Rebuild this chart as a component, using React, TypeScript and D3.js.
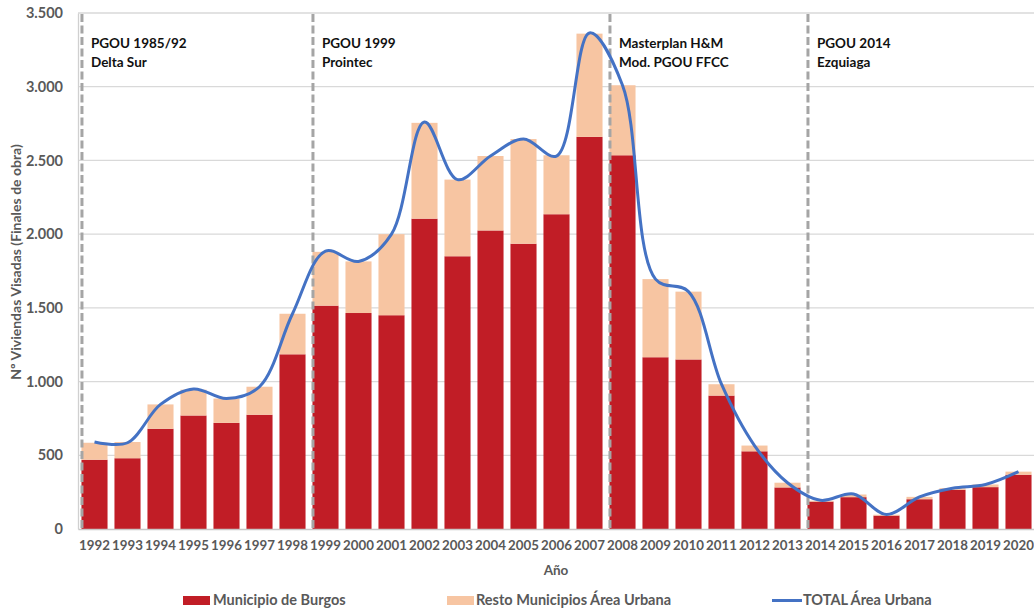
import React, { useRef, useEffect } from "react";
import * as d3 from "d3";

const years = [
  "1992", "1993", "1994", "1995", "1996", "1997", "1998", "1999", "2000", "2001",
  "2002", "2003", "2004", "2005", "2006", "2007", "2008", "2009", "2010", "2011",
  "2012", "2013", "2014", "2015", "2016", "2017", "2018", "2019", "2020",
];
const municipio = [
  470, 480, 680, 770, 720, 775, 1185, 1515, 1465, 1450,
  2105, 1850, 2025, 1935, 2135, 2660, 2535, 1165, 1150, 905,
  527, 282, 186, 216, 91, 202, 266, 284, 368,
];
const resto = [
  115, 110, 165, 175, 165, 190, 275, 365, 350, 550,
  650, 520, 505, 710, 400, 700, 475, 530, 460, 77,
  39, 32, 6, 18, 6, 16, 11, 18, 21,
];
const total = [
  590, 585, 845, 950, 885, 965, 1460, 1885, 1815, 2000,
  2760, 2370, 2530, 2645, 2530, 3365, 3010, 1695, 1610, 982,
  566, 314, 195, 238, 98, 218, 277, 302, 389,
];
const yTicks = [0, 500, 1000, 1500, 2000, 2500, 3000, 3500];
const planYears = ["1992", "1999", "2008", "2014"];
const planLabels = [
  ["PGOU 1985/92", "Delta Sur"],
  ["PGOU 1999", "Prointec"],
  ["Masterplan H&M", "Mod. PGOU FFCC"],
  ["PGOU 2014", "Ezquiaga"],
];
const seriesNames = ["Municipio de Burgos", "Resto Municipios Área Urbana", "TOTAL Área Urbana"];

const RED = "#c11d26";
const PEACH = "#f7c5a2";
const BLUE = "#4472c4";
const TEXT = "#595959";
const FONT = "Lato, 'Open Sans', sans-serif";

const W = 1034;
const H = 609;

const App: React.FC = () => {
  const svgRef = useRef<SVGSVGElement | null>(null);

  useEffect(() => {
    if (!svgRef.current) return;
    const svg = d3.select(svgRef.current);
    svg.selectAll("*").remove();

    const x = d3.scaleBand().domain(years).range([78, 1035]).paddingInner(0.21).paddingOuter(0.105);
    const y = d3.scaleLinear().domain([0, 3500]).range([529, 13]);
    const es = d3.formatLocale({ decimal: ",", thousands: ".", grouping: [3], currency: ["", "€"] });
    const fmt = es.format(",");

    // gridlines
    svg.append("g")
      .selectAll("line")
      .data(yTicks.slice(1))
      .join("line")
      .attr("x1", 78)
      .attr("x2", W)
      .attr("y1", (d) => y(d))
      .attr("y2", (d) => y(d))
      .attr("stroke", "#d9d9d9")
      .attr("stroke-width", 1.3);

    // y axis
    const yAxis = svg.append("g")
      .attr("transform", "translate(78,0)")
      .call(d3.axisLeft(y).tickValues(yTicks).tickSize(0).tickPadding(15).tickFormat((d) => fmt(d as number)));
    yAxis.select(".domain").attr("stroke", "#d0d0d0").attr("stroke-width", 1.3);
    yAxis.selectAll("text")
      .attr("fill", TEXT)
      .attr("font-family", FONT)
      .attr("font-weight", "bold")
      .attr("font-size", 14.5);

    // stacked bars
    const bars = svg.append("g");
    bars.selectAll("rect.mun")
      .data(years)
      .join("rect")
      .attr("class", "mun")
      .attr("x", (d) => x(d) || 0)
      .attr("width", x.bandwidth())
      .attr("y", (_, i) => y(municipio[i]))
      .attr("height", (_, i) => y(0) - y(municipio[i]))
      .attr("fill", RED);
    bars.selectAll("rect.res")
      .data(years)
      .join("rect")
      .attr("class", "res")
      .attr("x", (d) => x(d) || 0)
      .attr("width", x.bandwidth())
      .attr("y", (_, i) => y(municipio[i] + resto[i]))
      .attr("height", (_, i) => y(municipio[i]) - y(municipio[i] + resto[i]))
      .attr("fill", PEACH);

    // x axis
    const xAxis = svg.append("g")
      .attr("transform", "translate(0,529)")
      .call(d3.axisBottom(x).tickSize(0).tickPadding(12));
    xAxis.select(".domain").attr("stroke", "#c8c8c8").attr("stroke-width", 1.5);
    xAxis.selectAll("text")
      .attr("fill", TEXT)
      .attr("font-family", FONT)
      .attr("font-weight", "bold")
      .attr("font-size", 13.3);

    // planning period markers
    const plans = svg.append("g");
    planYears.forEach((yr, i) => {
      const px = (x(yr) || 0) + 0.5;
      plans.append("line")
        .attr("x1", px)
        .attr("x2", px)
        .attr("y1", 14)
        .attr("y2", 529)
        .attr("stroke", "#a5a5a5")
        .attr("stroke-width", 3)
        .attr("stroke-dasharray", "8,3.5");
      const t = plans.append("text")
        .attr("x", px + 9)
        .attr("y", 48)
        .attr("font-family", FONT)
        .attr("font-weight", "bold")
        .attr("font-size", 13.5)
        .attr("fill", "#111");
      planLabels[i].forEach((s, j) => {
        t.append("tspan").attr("x", px + 9).attr("dy", j === 0 ? 0 : 19).text(s);
      });
    });

    // total line
    const line = d3.line<number>()
      .x((_, i) => (x(years[i]) || 0) + x.bandwidth() / 2)
      .y((d) => y(d))
      .curve(d3.curveCatmullRom.alpha(0.5));
    svg.append("path")
      .datum(total)
      .attr("d", line)
      .attr("fill", "none")
      .attr("stroke", BLUE)
      .attr("stroke-width", 3);

    // axis titles
    svg.append("text")
      .attr("transform", "translate(21,262) rotate(-90)")
      .attr("text-anchor", "middle")
      .attr("font-family", FONT)
      .attr("font-weight", "bold")
      .attr("font-size", 14)
      .attr("fill", TEXT)
      .text("Nº Viviendas Visadas (Finales de obra)");
    svg.append("text")
      .attr("x", 556)
      .attr("y", 575)
      .attr("text-anchor", "middle")
      .attr("font-family", FONT)
      .attr("font-weight", "bold")
      .attr("font-size", 13.5)
      .attr("fill", TEXT)
      .text("Año");

    // legend
    const lg = svg.append("g").attr("font-family", FONT).attr("font-weight", "bold").attr("font-size", 14.5).attr("fill", TEXT);
    lg.append("rect").attr("x", 183).attr("y", 596).attr("width", 27).attr("height", 9).attr("fill", RED);
    lg.append("text").attr("x", 213).attr("y", 605).text(seriesNames[0]);
    lg.append("rect").attr("x", 447).attr("y", 596).attr("width", 27).attr("height", 9).attr("fill", PEACH);
    lg.append("text").attr("x", 476).attr("y", 605).text(seriesNames[1]);
    lg.append("line").attr("x1", 772).attr("x2", 802).attr("y1", 600.5).attr("y2", 600.5).attr("stroke", BLUE).attr("stroke-width", 3);
    lg.append("text").attr("x", 803).attr("y", 605).text(seriesNames[2]);
  }, []);

  return (
    <div style={{ position: "absolute", left: 0, top: 0, width: W, height: H, background: "#fff" }}>
      <svg ref={svgRef} width={W} height={H} style={{ display: "block" }} />
    </div>
  );
};

export default App;
